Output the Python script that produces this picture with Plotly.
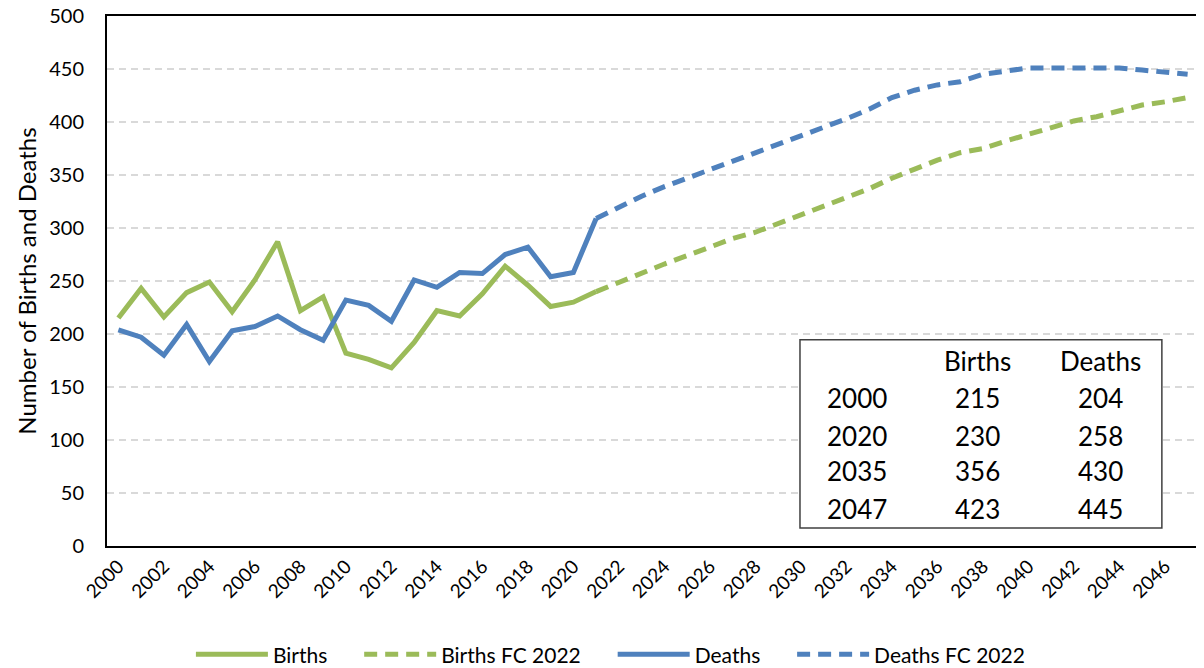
import plotly.graph_objects as go

# 1. Data
hist_years = list(range(2000, 2022))
fc_years = list(range(2021, 2048))

births = [215, 243, 216, 239, 249, 221, 251, 287, 222, 235, 182,
          176, 168, 192, 222, 217, 238, 264, 246, 226, 230, 240]
deaths = [204, 197, 180, 209, 174, 203, 207, 217, 204, 194, 232,
          227, 212, 251, 244, 258, 257, 275, 282, 254, 258, 309]

births_fc = [240, 249, 258, 266, 274, 282, 290, 296, 304, 312, 320, 329, 337, 347,
             356, 364, 371, 375, 382, 388, 395, 401, 405, 411, 416, 419, 423]
deaths_fc = [309, 320, 330, 339, 347, 355, 362, 371, 379, 386, 395, 403, 412, 423,
             430, 435, 438, 445, 448, 451, 451, 451, 452, 451, 449, 447, 445]

table_years = [2000, 2020, 2035, 2047]
x_ticks = list(range(2000, 2047, 2))

GREEN = "#9BBB59"
BLUE = "#4F81BD"
FONT = "Lato"
GAP = "&nbsp;" * 5  # extra room between legend entries


def lookup(year, hist, fc):
    if year in hist_years and year <= 2020:
        return hist[hist_years.index(year)]
    return fc[fc_years.index(year)]


# 2. Figure
fig = go.Figure()

fig.add_trace(go.Scatter(
    x=hist_years, y=births, mode="lines", name="Births" + GAP,
    line=dict(color=GREEN, width=5)
))
fig.add_trace(go.Scatter(
    x=fc_years, y=births_fc, mode="lines", name="Births FC 2022" + GAP,
    line=dict(color=GREEN, width=5, dash="13px,8px")
))
fig.add_trace(go.Scatter(
    x=hist_years, y=deaths, mode="lines", name="Deaths" + GAP,
    line=dict(color=BLUE, width=5)
))
fig.add_trace(go.Scatter(
    x=fc_years, y=deaths_fc, mode="lines", name="Deaths FC 2022",
    line=dict(color=BLUE, width=5, dash="13px,8px")
))

# 3. Summary table inside the plot
fig.add_shape(
    type="rect", xref="paper", yref="paper",
    x0=0.6346, x1=0.966, y0=0.034, y1=0.389,
    line=dict(color="#404040", width=1.5), fillcolor="white", layer="above"
)
col_x = [0.687, 0.7976, 0.910]
row_y = [0.349, 0.279, 0.208, 0.141, 0.070]
tfont = dict(family=FONT, size=26, color="black")


def cell(x, y, text):
    fig.add_annotation(x=x, y=y, xref="paper", yref="paper", text=text,
                       showarrow=False, xanchor="center", yanchor="middle",
                       font=tfont)


cell(col_x[1], row_y[0], "Births")
cell(col_x[2], row_y[0], "Deaths")
for i, yr in enumerate(table_years):
    vals = [yr, lookup(yr, births, births_fc), lookup(yr, deaths, deaths_fc)]
    for cx, v in zip(col_x, vals):
        cell(cx, row_y[i + 1], str(v))

# 4. Layout  (page body has an 8px margin, so the figure is 8px smaller)
fig.update_xaxes(
    range=[1999.5, 2047.5], tickmode="array", tickvals=x_ticks,
    ticktext=[str(t) for t in x_ticks], tickangle=-45,
    showgrid=False, zeroline=False,
    showline=True, linecolor="black", linewidth=2, mirror=True,
    tickfont=dict(family=FONT, size=19, color="black")
)
fig.update_yaxes(
    range=[0, 500], dtick=50, zeroline=False,
    showgrid=True, gridcolor="#d9d9d9", gridwidth=1.5, griddash="7px,5px",
    showline=True, linecolor="black", linewidth=2, mirror=True,
    ticklabelstandoff=17, ticklabeloverflow="allow",
    tickfont=dict(family=FONT, size=20, color="black"),
    title=dict(text="Number of Births and Deaths",
               font=dict(family=FONT, size=24, color="black"), standoff=6)
)

fig.update_layout(
    width=1196, height=660,
    plot_bgcolor="white", paper_bgcolor="white",
    margin=dict(l=99, r=5, t=8, b=122, autoexpand=False),
    font=dict(family=FONT, color="black"),
    showlegend=True,
    legend=dict(
        orientation="h", x=0.461, xanchor="center", y=-0.205, yanchor="middle",
        font=dict(family=FONT, size=21, color="black"),
        itemwidth=72, tracegroupgap=0
    )
)

fig.write_html("out.html")
